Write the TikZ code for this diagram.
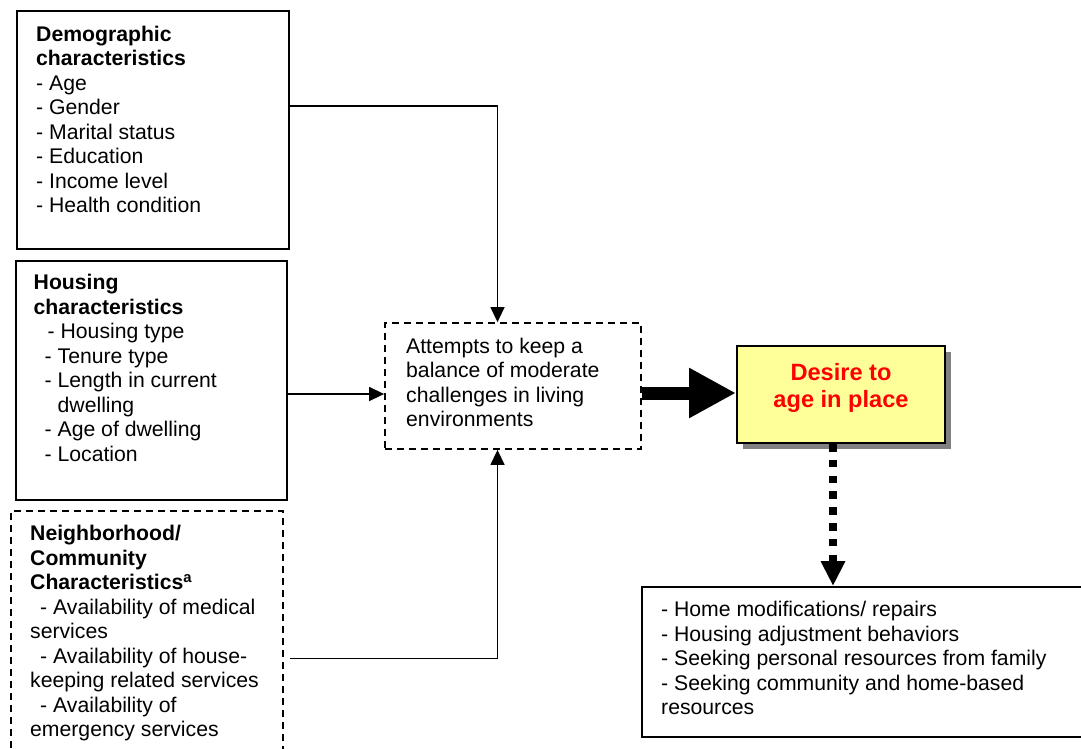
\documentclass[tikz,border=0pt]{standalone}
\usepackage{fontspec}
\setmainfont{Liberation Sans}
\usetikzlibrary{arrows.meta,shadows}

\tikzset{
  box/.style={draw, line width=2pt, inner sep=0pt},
  dbox/.style={draw, line width=1.8pt, dash pattern=on 7pt off 5pt, inner sep=0pt},
  txt/.style={anchor=north west, inner sep=0pt, align=left,
              font=\fontsize{21.2}{24.5}\selectfont},
  conn/.style={line width=1.5pt, -{Triangle[length=15pt,width=14pt]}},
  bigarrow/.style={line width=13pt, -{Triangle[length=47pt,width=47pt]}},
  dotarrow/.style={line width=8pt, dash pattern=on 7.5pt off 8.3pt,
                   -{Triangle[length=25pt,width=23pt]}},
  goalbox/.style={draw, line width=2pt, fill=goalyellow, inner sep=0pt,
                  drop shadow={shadow xshift=5.5pt, shadow yshift=-5.5pt,
                               fill=shadowgray, opacity=1}},
}
\definecolor{goalyellow}{RGB}{255,255,153}
\definecolor{shadowgray}{RGB}{128,128,128}
\definecolor{goalred}{RGB}{255,0,0}

\begin{document}
\begin{tikzpicture}[x=1pt, y=-1pt]
\useasboundingbox (0,0) rectangle (1081,748);
\clip (0,0) rectangle (1081,748);

% input boxes on the left
\node[box, minimum width=272pt, minimum height=238pt] (demo) at (153,130) {};
\node[box, minimum width=271pt, minimum height=239pt] (house) at (151,380.5) {};
\node[dbox, minimum width=272pt, minimum height=258pt] (neigh) at (147,640) {};

\node[txt] (demoT) at (36,25.8) {\textbf{Demographic}\\\textbf{characteristics}\\
  - Age\\- Gender\\- Marital status\\- Education\\- Income level\\- Health condition};

\node[txt] (houseT) at (33.5,274) {\textbf{Housing}\\\textbf{characteristics}\\
  \hspace*{14pt}- Housing type\\
  \hspace*{11pt}- Tenure type\\
  \hspace*{11pt}- Length in current\\
  \hspace*{24pt}dwelling\\
  \hspace*{11pt}- Age of dwelling\\
  \hspace*{11pt}- Location};

\node[txt] (neighT) at (30,525.3) {\textbf{Neighborhood/}\\\textbf{Community}\\
  \textbf{Characteristics\textsuperscript{a}}\\
  \hspace*{10pt}- Availability of medical\\
  services\\
  \hspace*{10pt}- Availability of house-\\
  keeping related services\\
  \hspace*{10pt}- Availability of\\
  emergency services};

% central mediating box
\node[dbox, minimum width=256pt, minimum height=126pt] (att) at (513,386) {};
\node[txt] (attT) at (406,337.5) {Attempts to keep a\\balance of moderate\\
  challenges in living\\environments};

% outcome box
\node[goalbox, minimum width=208pt, minimum height=97pt] (goal) at (841,394.5) {};
\node[anchor=north, inner sep=0pt, align=center, text=goalred,
      font=\fontsize{23.6}{27.5}\selectfont\bfseries] (goalT) at (841,363.1)
      {Desire to\\age in place};

% resulting behaviours
\node[box, minimum width=448pt, minimum height=150pt] (res) at (866,662) {};
\node[txt] (resT) at (661,601.3) {- Home modifications/ repairs\\
  - Housing adjustment behaviors\\
  - Seeking personal resources from family\\
  - Seeking community and home-based\\
  resources};

% routing helpers
\coordinate (colx) at (497.5,0);
\coordinate (rowA) at (0,106);
\coordinate (rowB) at (0,394);
\coordinate (rowC) at (0,658.5);
\coordinate (rowD) at (0,393);
\coordinate (dotx) at (833,0);

% connectors
\draw[conn] (demo.east |- rowA) -| (att.north -| colx);
\draw[conn] (house.east |- rowB) -- (att.west |- rowB);
\draw[conn, shorten <=6pt] (neigh.east |- rowC) -| (att.south -| colx);
\draw[bigarrow] (att.east |- rowD) -- (goal.west |- rowD);
\draw[dotarrow] (goal.south -| dotx) -- (res.north -| dotx);
\end{tikzpicture}
\end{document}
